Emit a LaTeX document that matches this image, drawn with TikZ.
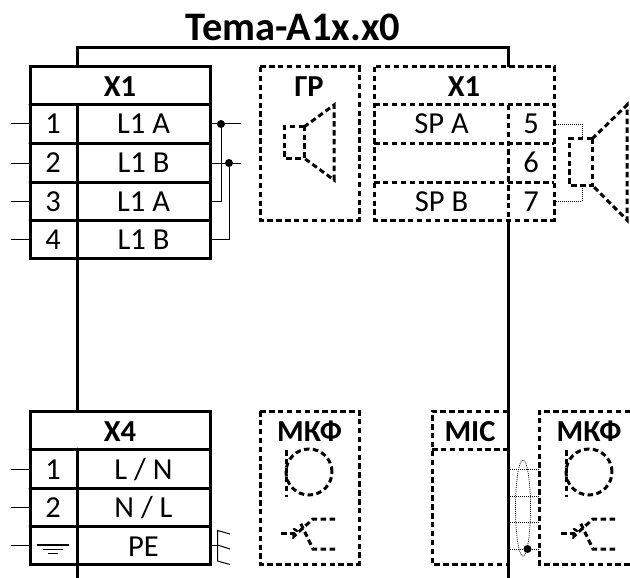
\documentclass[tikz,border=0pt]{standalone}
\usepackage{fontspec}
\setmainfont{Carlito}
\tikzset{
	frame/.style={line width=3pt,line cap=round},
	dframe/.style={line width=3pt,dash pattern=on 5.5pt off 3.4pt},
	wire/.style={line width=1pt},
	bus/.style={line width=3pt},
	dotwire/.style={line width=0.7pt,dash pattern=on 1pt off 1pt},
	lbl/.style={anchor=base,inner sep=0pt,font=\fontsize{30.5}{36}\selectfont},
	hdr/.style={anchor=base,inner sep=0pt,font=\fontsize{30.5}{36}\selectfont\bfseries},
	jn/.style={circle,fill=black,inner sep=0pt,minimum size=8pt}
}
\begin{document}
\begin{tikzpicture}[x=1pt,y=-1pt]
	\useasboundingbox (0,0) rectangle (630,578);

	\node [anchor=base,inner sep=0pt,font=\fontsize{40.5}{46}\selectfont\bfseries] (title) at (293,41) {Tema-A1x.x0};

	% points of the wires
	\coordinate (bustop) at (77,48);
	\coordinate (busend) at (508,48);
	\coordinate (xatop) at (77,67);
	\coordinate (xabot) at (77,258);
	\coordinate (xdtop) at (77,411);
	\coordinate (xdbot) at (77,564);
	\coordinate (outl) at (77,578);
	\coordinate (sptop) at (508,67);
	\coordinate (spbot) at (508,220);
	\coordinate (outr) at (508,578);

	% left block X1
	\draw[frame] (30,67) rectangle (210,258);
	\draw[frame] (30,105)--(210,105);
	\draw[frame] (30,143.5)--(210,143.5);
	\draw[frame] (30,182)--(210,182);
	\draw[frame] (30,220)--(210,220);
	\draw[frame] (77,105)--(77,258);
	\node [hdr] (xa) at (120,96) {X1};
	\node [lbl] (xa1) at (53,134) {1};
	\node [lbl] (xa2) at (53,172.5) {2};
	\node [lbl] (xa3) at (53,211) {3};
	\node [lbl] (xa4) at (53,249) {4};
	\node [lbl] (xal1) at (143.5,134) {L1 A};
	\node [lbl] (xal2) at (143.5,172.5) {L1 B};
	\node [lbl] (xal3) at (143.5,211) {L1 A};
	\node [lbl] (xal4) at (143.5,249) {L1 B};

	\draw[bus] (xatop)--(bustop)--(busend)--(sptop);
	\draw[bus] (xabot)--(xdtop);
	\draw[bus] (xdbot)--(outl);
	\draw[bus] (spbot)--(outr);

	\coordinate (la1) at (11,124);
	\coordinate (la2) at (11,163);
	\coordinate (la3) at (11,201);
	\coordinate (la4) at (11,239);
	\coordinate (ta1) at (30,124);
	\coordinate (ta2) at (30,163);
	\coordinate (ta3) at (30,201);
	\coordinate (ta4) at (30,239);
	\draw[wire] (la1)--(ta1);
	\draw[wire] (la2)--(ta2);
	\draw[wire] (la3)--(ta3);
	\draw[wire] (la4)--(ta4);

	\coordinate (ra1) at (210,124);
	\coordinate (ra2) at (210,163);
	\coordinate (ra3) at (210,201);
	\coordinate (ra4) at (210,239);
	\coordinate (ea1) at (241,124);
	\coordinate (ea2) at (241,163);
	\node [jn] (ja) at (221,124) {};
	\node [jn] (jb) at (229,163) {};
	\draw[wire] (ra1)--(ea1);
	\draw[wire] (ra2)--(ea2);
	\draw[wire] (ja.center)--(221,201)--(ra3);
	\draw[wire] (jb.center)--(229,239)--(ra4);

	% block GP
	\draw[dframe] (260,67) rectangle (359,220);
	\node [hdr] (gr) at (309,96) {ГР};
	\draw[dframe] (304,127)--(284,127)--(284,158)--(304,158)--cycle;
	\draw[dframe] (304,127)--(334,105)--(334,180)--(304,158);

	% right block X1
	\draw[dframe] (374,67) rectangle (554,220);
	\draw[dframe] (374,105)--(554,105);
	\draw[dframe] (374,143.5)--(554,143.5);
	\draw[dframe] (374,182)--(554,182);
	\draw[dframe] (508,105)--(508,220);
	\node [hdr] (xb) at (464,96) {X1};
	\node [lbl] (spa) at (441.5,134) {SP A};
	\node [lbl] (spb) at (441.5,211) {SP B};
	\node [lbl] (xb5) at (531,134) {5};
	\node [lbl] (xb6) at (531,172.5) {6};
	\node [lbl] (xb7) at (531,211) {7};

	% loudspeaker on the right
	\draw[dframe] (592,139)--(569,139)--(569,185)--(592,185)--cycle;
	\draw[dframe] (592,139)--(627,105)--(627,220)--(592,185);
	\coordinate (ca) at (554,124);
	\coordinate (cb) at (554,201);
	\coordinate (sa) at (582,139);
	\coordinate (sb) at (582,185);
	\draw[dotwire] (ca)--(582,124)--(sa);
	\draw[dotwire] (cb)--(582,201)--(sb);

	% block X4
	\draw[frame] (30,411) rectangle (210,564);
	\draw[frame] (30,449)--(210,449);
	\draw[frame] (30,488)--(210,488);
	\draw[frame] (30,526)--(210,526);
	\draw[frame] (77,449)--(77,564);
	\node [hdr] (xd) at (120,441) {X4};
	\node [lbl] (xd1) at (53,479) {1};
	\node [lbl] (xd2) at (53,517) {2};
	\node [lbl] (xdl1) at (143.5,479) {L / N};
	\node [lbl] (xdl2) at (143.5,517) {N / L};
	\node [lbl] (xdl3) at (143.5,556) {PE};

	\coordinate (ld1) at (11,469);
	\coordinate (ld2) at (11,507);
	\coordinate (ld3) at (11,545);
	\coordinate (td1) at (30,469);
	\coordinate (td2) at (30,507);
	\coordinate (td3) at (30,545);
	\draw[wire] (ld1)--(td1);
	\draw[wire] (ld2)--(td2);
	\draw[wire] (ld3)--(td3);

	% earth sign
	\draw[line width=1.4pt] (37,545)--(69,545);
	\draw[line width=1.4pt] (43,549.5)--(63,549.5);
	\draw[line width=1.4pt] (48,553.5)--(58,553.5);

	% screen comb of PE
	\coordinate (rd3) at (210,545);
	\coordinate (cm) at (217.5,545);
	\draw[wire] (rd3)--(cm);
	\draw[wire] (230,534)--(217.5,530.5)--(217.5,561)--(230,564.5);
	\draw[wire] (cm)--(230,549);

	% left MKF
	\draw[dframe] (260,411) rectangle (359,564);
	\node [hdr] (mka) at (309.5,441) {МКФ};
	\draw[dframe] (309,472) circle (23pt);
	\draw[dframe] (286,450)--(286,497);
	\draw[dframe] (335,519)--(313,519)--(293,537);
	\draw[dframe] (335,549)--(313,549)--(300,522);
	\draw[dframe] (281,533)--(298,533);
	\draw[line width=2.4pt,line cap=round] (294,529)--(297,531);
	\draw[line width=2.4pt,line cap=round] (293,538)--(293.2,538);

	% MIC
	\draw[dframe] (508,411)--(432,411)--(432,564)--(508,564);
	\draw[dframe] (432,449)--(508,449);
	\node [hdr] (mic) at (470,441) {MIC};

	% right MKF, its right side is out of the picture
	\draw[dframe] (630,411)--(539,411)--(539,564)--(630,564);
	\node [hdr] (mkb) at (589,441) {МКФ};
	\draw[dframe] (589,472) circle (23pt);
	\draw[dframe] (566,450)--(566,497);
	\draw[dframe] (615,519)--(593,519)--(573,537);
	\draw[dframe] (615,549)--(593,549)--(580,522);
	\draw[dframe] (561,533)--(578,533);
	\draw[line width=2.4pt,line cap=round] (574,529)--(577,531);
	\draw[line width=2.4pt,line cap=round] (573,538)--(573.2,538);

	% twisted pair between MIC and MKF
	\coordinate (ma) at (508,469);
	\coordinate (mb) at (508,496);
	\coordinate (mc) at (508,522.5);
	\coordinate (md) at (508,549);
	\coordinate (na) at (539,469);
	\coordinate (nb) at (539,496);
	\coordinate (nc) at (539,522.5);
	\coordinate (nd) at (539,549);
	\draw[dotwire] (ma)--(na);
	\draw[dotwire] (mb)--(nb);
	\draw[dotwire] (mc)--(nc);
	\draw[dotwire] (md)--(nd);
	\draw[dotwire] (523,508) ellipse [x radius=7.5pt,y radius=48pt];
	\node [jn] (jm) at (527.5,549) {};
\end{tikzpicture}
\end{document}
